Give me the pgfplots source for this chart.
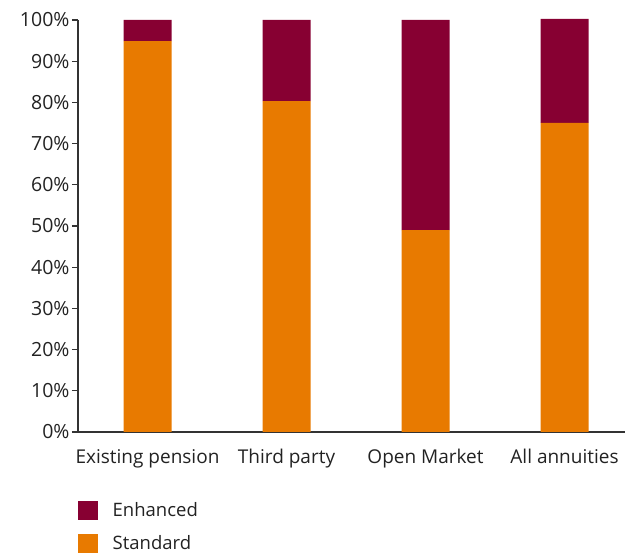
\documentclass[border=0pt]{standalone}
\usepackage{pgfplots}
\pgfplotsset{compat=1.18}
\usepackage{fontspec}
\setmainfont{Open Sans}
\definecolor{orng}{HTML}{E87A00}
\definecolor{dred}{HTML}{870032}
\definecolor{txt}{HTML}{222222}
\begin{document}
\begin{tikzpicture}
\begin{axis}[
  scale only axis,
  width=547pt, height=412pt,
  ybar stacked, bar width=48pt,
  xmin=-0.5, xmax=3.435,
  ymin=0, ymax=100,
  axis x line*=bottom, axis y line*=left,
  axis line style={line width=1.3pt, black!80},
  xtick={0,1,2,3},
  xticklabels={Existing pension, Third party, Open Market, All annuities},
  major x tick style={draw=none},
  extra x ticks={-0.5,0.5,1.5,2.5},
  extra x tick labels={},
  extra x tick style={major tick length=6pt, tick align=outside, tick style={line width=1.3pt, black!80}},
  ytick={0,10,...,100},
  yticklabel={\pgfmathprintnumber{\tick}\%},
  ytick style={line width=1.3pt, black!80},
  tick align=outside, major tick length=6pt,
  /pgf/number format/assume math mode=true,
  yticklabel style={font=\fontsize{19.5}{21}\selectfont, text=txt, xshift=1pt},
  xticklabel style={font=\fontsize{19}{21}\selectfont, text=txt, yshift=-8pt},
  legend style={draw=none, at={(0,-0.1675)}, anchor=north west, font=\fontsize{18.5}{20}\selectfont, text=txt, row sep=14pt, column sep=15pt, inner sep=0pt, nodes={inner sep=0pt, anchor=west}},
  legend cell align=left,
  reverse legend,
  legend image code/.code={\fill[#1] (0pt,-9.5pt) rectangle (19.5pt,9.5pt);},
  clip=false,
]
\addplot[fill=orng, draw=none] coordinates {(0,94.9) (1,80.3) (2,49.0) (3,75.0)};
\addplot[fill=dred, draw=none] coordinates {(0,5.1) (1,19.7) (2,51.0) (3,25.3)};
\legend{Standard, Enhanced}
\path ([shift={(-78pt,-121pt)}]rel axis cs:0,0) coordinate (P1);
\path ([shift={(0pt,20pt)}]rel axis cs:1,1) coordinate (P2);
\end{axis}
\pgfresetboundingbox
\path (P1) rectangle (P2);
\end{tikzpicture}
\end{document}
